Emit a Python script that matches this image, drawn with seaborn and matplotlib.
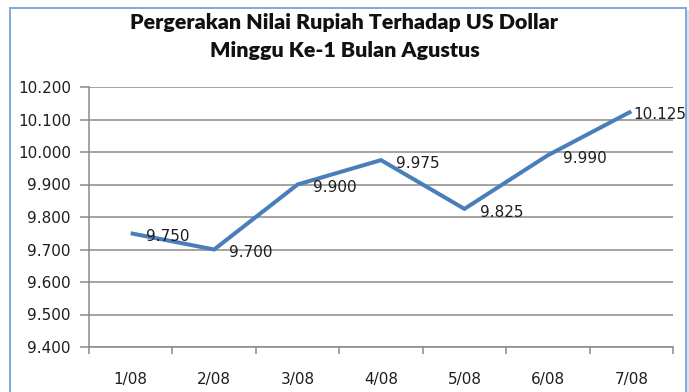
import matplotlib
matplotlib.use("Agg")
import matplotlib.pyplot as plt
from matplotlib.patches import Rectangle
from matplotlib.ticker import FixedLocator, FuncFormatter, NullFormatter
import seaborn as sns
import pandas as pd

# Exchange rate data (Rupiah per US Dollar), first week of August
dates = ["1/08", "2/08", "3/08", "4/08", "5/08", "6/08", "7/08"]
rates = [9750, 9700, 9900, 9975, 9825, 9990, 10125]
y_ticks = [9400, 9500, 9600, 9700, 9800, 9900, 10000, 10100, 10200]
title_lines = ["Pergerakan Nilai Rupiah Terhadap US Dollar", "Minggu Ke-1 Bulan Agustus"]

df = pd.DataFrame({"pos": range(len(dates)), "tanggal": dates, "kurs": rates})


def idr(v, _=None):
    return f"{int(round(v)):,}".replace(",", ".")


sns.set_theme(style="white")
plt.rcParams["font.family"] = ["DejaVu Sans"]

W, H = 689, 392
fig = plt.figure(figsize=(W / 100, H / 100), dpi=100)
fig.patch.set_facecolor("white")

# plot area in pixel coordinates
x0, x1, ytop, ybot = 89, 673, 87, 347
ax = fig.add_axes([x0 / W, 1 - ybot / H, (x1 - x0) / W, (ybot - ytop) / H])

line_color = "#4a7ebb"
grid_color = "#8a8a8a"
text_color = "#1e1e1e"

sns.lineplot(data=df, x="pos", y="kurs", ax=ax, color=line_color,
             linewidth=2.9, solid_capstyle="butt", solid_joinstyle="miter",
             zorder=3, legend=False)

ax.set_xlim(-0.5, len(dates) - 0.5)
ax.set_ylim(y_ticks[0], y_ticks[-1])

# horizontal gridlines
ax.yaxis.set_major_locator(FixedLocator(y_ticks))
ax.yaxis.set_major_formatter(FuncFormatter(idr))
ax.grid(axis="y", color=grid_color, linewidth=1.1)
ax.grid(axis="x", visible=False)
ax.set_axisbelow(True)

# categories centred between boundary ticks
ax.xaxis.set_major_locator(FixedLocator(list(range(len(dates)))))
ax.set_xticklabels(dates)
ax.xaxis.set_minor_locator(FixedLocator([i - 0.5 for i in range(len(dates) + 1)]))
ax.xaxis.set_minor_formatter(NullFormatter())
ax.tick_params(axis="x", which="major", length=0, pad=18, labelsize=11,
               labelcolor=text_color)
ax.tick_params(axis="x", which="minor", length=5, width=1.1, color=grid_color,
               direction="out", bottom=True)
ax.tick_params(axis="y", which="major", length=6.5, width=1.1, color=grid_color,
               direction="out", left=True, pad=6.5, labelsize=11,
               labelcolor=text_color)

for side in ("top", "right"):
    ax.spines[side].set_visible(False)
for side in ("left", "bottom"):
    ax.spines[side].set_color(grid_color)
    ax.spines[side].set_linewidth(1.1)

ax.set_xlabel("")
ax.set_ylabel("")

# value labels to the right of each point
for i, v in enumerate(rates):
    dx = 11 if i < len(rates) - 1 else 1.5
    ax.annotate(idr(v), (i, v), xytext=(dx, -2.5), textcoords="offset points",
                ha="left", va="center", fontsize=11, color=text_color,
                zorder=4, annotation_clip=False)

# chart title
fig.text(0.5, 1 - 22 / H, title_lines[0], ha="center", va="center",
         fontsize=15.4, fontweight="heavy", family="Lato", color="#111111")
fig.text(0.5, 1 - 51 / H, title_lines[1], ha="center", va="center",
         fontsize=15.4, fontweight="heavy", family="Lato", color="#111111")

# chart border
fig.patches.append(Rectangle((10 / W, -0.05), (686 - 10) / W, 1.05 - 8 / H,
                             transform=fig.transFigure, fill=False,
                             edgecolor="#7fa9d9", linewidth=1.4))
fig.patches.append(Rectangle((687 / W, -0.05), 2 / W, 1.05 - 10 / H,
                             transform=fig.transFigure, fill=True,
                             facecolor="#d6e3f1", edgecolor="none"))

fig.savefig("out.png", dpi=100, facecolor="white")
